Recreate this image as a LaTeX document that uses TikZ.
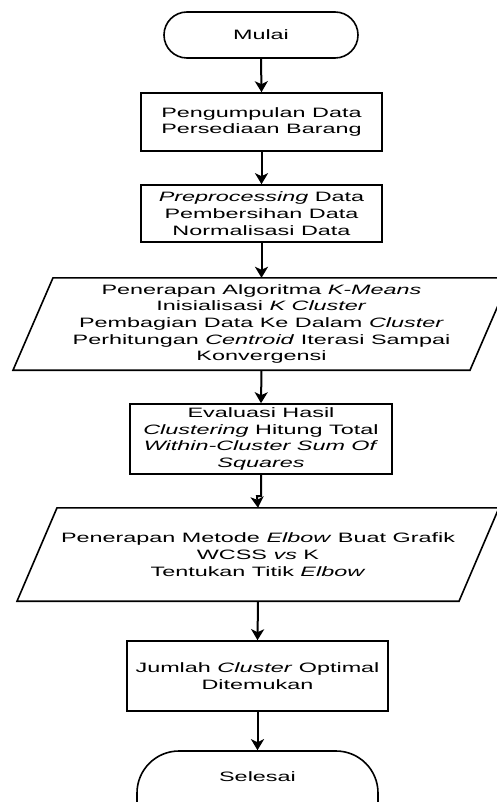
\documentclass[tikz,border=0pt]{standalone}
\usepackage{fontspec}
\setmainfont{Liberation Sans}[FakeStretch=1.72]
\usetikzlibrary{arrows.meta}
\newcommand{\fsz}{\fontsize{13.6}{16.7}\selectfont}
\tikzset{
  shp/.style={line width=1.6pt},
  box/.style={draw, shp, align=center, font=\fsz, inner sep=1pt},
  term/.style={box, rounded corners=23pt},
  paratext/.style={align=center, font=\fsz, inner sep=0pt, minimum width=20pt},
  arr/.style={line width=2pt, -{Stealth[length=11pt,width=13pt,inset=3pt]}}
}
\begin{document}
\begin{tikzpicture}[x=1pt,y=-1pt]
\useasboundingbox (0,0) rectangle (497,802);
\clip (0,0) rectangle (497,802);
\node[term, minimum width=194pt, minimum height=46pt] (start) at (261,35) {Mulai};
\node[box, minimum width=241pt, minimum height=58pt] (b1) at (261.5,122) {Pengumpulan Data\\Persediaan Barang};
\node[box, minimum width=241pt, minimum height=57pt] (b2) at (261.5,213.5) {\textit{Preprocessing} Data\\Pembersihan Data\\Normalisasi Data};
\node[paratext, minimum height=92pt] (p1) at (261.5,324) {Penerapan Algoritma \textit{K-Means}\\Inisialisasi \textit{K Cluster}\\Pembagian Data Ke Dalam \textit{Cluster}\\Perhitungan \textit{Centroid} Iterasi Sampai\\Konvergensi};
\draw[shp] ([xshift=-248.5pt]p1.south) -- ([xshift=208.5pt]p1.south) -- ([xshift=248.5pt]p1.north) -- ([xshift=-208.5pt]p1.north) -- cycle;
\node[box, minimum width=262pt, minimum height=70pt] (b3) at (261,439) {Evaluasi Hasil\\\textit{Clustering} Hitung Total\\\textit{Within-Cluster Sum Of}\\\textit{Squares}};
\node[paratext, minimum height=93pt] (p2) at (258,554.5) {Penerapan Metode \textit{Elbow} Buat Grafik\\WCSS \textit{vs} K\\Tentukan Titik \textit{Elbow}};
\draw[shp] ([xshift=-241pt]p2.south) -- ([xshift=201pt]p2.south) -- ([xshift=241pt]p2.north) -- ([xshift=-201pt]p2.north) -- cycle;
\node[box, minimum width=261pt, minimum height=70pt] (b4) at (257.5,676) {Jumlah \textit{Cluster} Optimal\\Ditemukan};
\node[box, rounded corners=42pt, minimum width=241pt, minimum height=100pt] (end) at (257.5,801) {Selesai\\[27.3pt]\strut};
\draw[arr] (start.south) -- (b1.north);
\draw[arr] (b1.south) -- (b2.north);
\draw[arr] (b2.south) -- (p1.north);
\draw[arr] (p1.south) -- (b3.north);
\coordinate (j1) at (261,496);
\coordinate (j2) at (257,496);
\draw[arr] (b3.south) -- (j1) -- (j2) -- (p2.north);
\draw[arr] (p2.south) -- (b4.north);
\draw[arr] (b4.south) -- (end.north);
\end{tikzpicture}
\end{document}
